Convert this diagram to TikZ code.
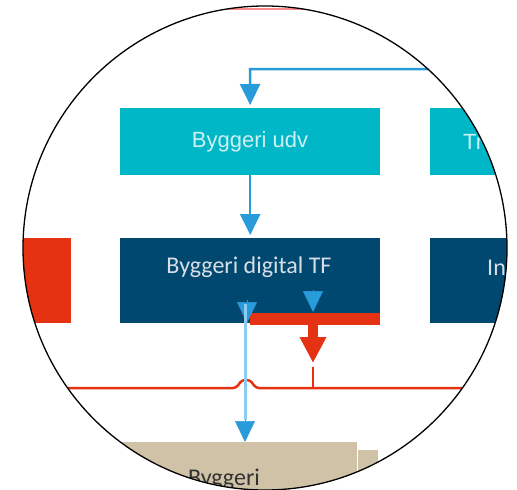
\documentclass[tikz,border=0pt]{standalone}
\usepackage{fontspec}
\setmainfont{Carlito}
\newfontfamily\arialf{Liberation Sans}
\usetikzlibrary{arrows.meta}
\definecolor{tealbox}{RGB}{0,183,200}
\definecolor{navybox}{RGB}{0,72,112}
\definecolor{redc}{RGB}{228,50,18}
\definecolor{bluec}{RGB}{40,155,218}
\definecolor{lightbluec}{RGB}{140,204,240}
\definecolor{beigec}{RGB}{208,194,166}
\definecolor{tealtext}{RGB}{205,240,244}
\definecolor{navytext}{RGB}{215,222,230}
\begin{document}
\begin{tikzpicture}[x=1pt,y=-1pt,
  boxst/.style={draw=none, inner sep=0pt, anchor=north west},
  blueflow/.style={draw=bluec, line width=2.5pt, -{Triangle[width=20pt,length=21pt]}},
  bluetip/.style={draw=bluec, line width=0.5pt, -{Triangle[width=20pt,length=21pt]}},
  redthin/.style={draw=redc, line width=2.5pt},
  lbl/.style={inner sep=0pt, font=\fontsize{24}{28}\selectfont}
]
\useasboundingbox (0,0) rectangle (517,490);
\begin{scope}
\clip (265,248) circle (242pt);
% top red sliver
\draw[red!45!white, line width=2pt] (200,9) -- (330,9);
% boxes
\node[boxst, fill=tealbox, minimum width=260pt, minimum height=67pt] (udv) at (120,108) {};
\node[boxst, fill=tealbox, minimum width=260pt, minimum height=67pt] (tr) at (430,108) {};
\node[boxst, fill=navybox, minimum width=260pt, minimum height=85pt] (dig) at (120,238) {};
\node[boxst, fill=navybox, minimum width=260pt, minimum height=85pt] (inb) at (430,238) {};
\node[boxst, fill=redc, minimum width=100pt, minimum height=85pt] (redl) at (-29,238) {};
\node[boxst, fill=beigec, minimum width=260pt, minimum height=60pt] (back) at (118,450) {};
\node[boxst, fill=beigec, minimum width=257pt, minimum height=60pt] (front) at (100,442) {};
\draw[white, line width=1pt] (front.north east) -- ([yshift=-60pt]front.north east);
% labels
\node[lbl, text=tealtext, font=\arialf\fontsize{22}{26}\selectfont] (udvt) at (250,142) {Byggeri udv};
\node[lbl, text=tealtext, font=\arialf\fontsize{22}{26}\selectfont, anchor=west] (trt) at (463,142) {Tr};
\node[lbl, text=navytext] (digt) at (249,267) {Byggeri digital TF};
\node[lbl, text=navytext, anchor=west] (int) at (487,268) {In};
\node[lbl, text=black!80] (byt) at (224,479) {Byggeri};
% red bar and arrow
\node[boxst, fill=redc, minimum width=130pt, minimum height=12pt] (rbar) at (250,313) {};
\coordinate (rtip) at (313,363);
\draw[redc, line width=10pt, -{Triangle[width=25pt,length=26pt]}] (313,324) -- (rtip);
\coordinate (rj) at (313,388);
\draw[redthin] (313,367) -- (rj);
% red horizontal line with hop
\coordinate (rl) at (0,388);
\coordinate (rr) at (517,388);
\draw[redthin, rounded corners=3pt] (rl) -- (236,388) -- (242,380) -- (250,380) -- (256,388) -- (rr);
% blue connectors
\coordinate (topr) at (520,69);
\coordinate (topl) at (250,69);
\draw[blueflow, shorten >=3pt] (topr) -- (topl) -- (udv.north);
\draw[blueflow, shorten >=3pt] (udv.south) -- (dig.north);
\coordinate (t2a) at (313,290);
\coordinate (t2b) at (313,312);
\draw[bluetip] (t2a) -- (t2b);
\coordinate (t1a) at (247,300);
\coordinate (t1b) at (247,323);
\draw[bluetip] (t1a) -- (t1b);
\coordinate (lbs) at (245,304);
\coordinate (lbe) at (245,420);
\draw[lightbluec, line width=3pt] (lbs) -- (lbe);
\draw[bluetip] (lbe) -- (front.north -| lbe);
\end{scope}
\draw[black, line width=1.3pt] (265,248) circle (242pt);
\end{tikzpicture}
\end{document}
